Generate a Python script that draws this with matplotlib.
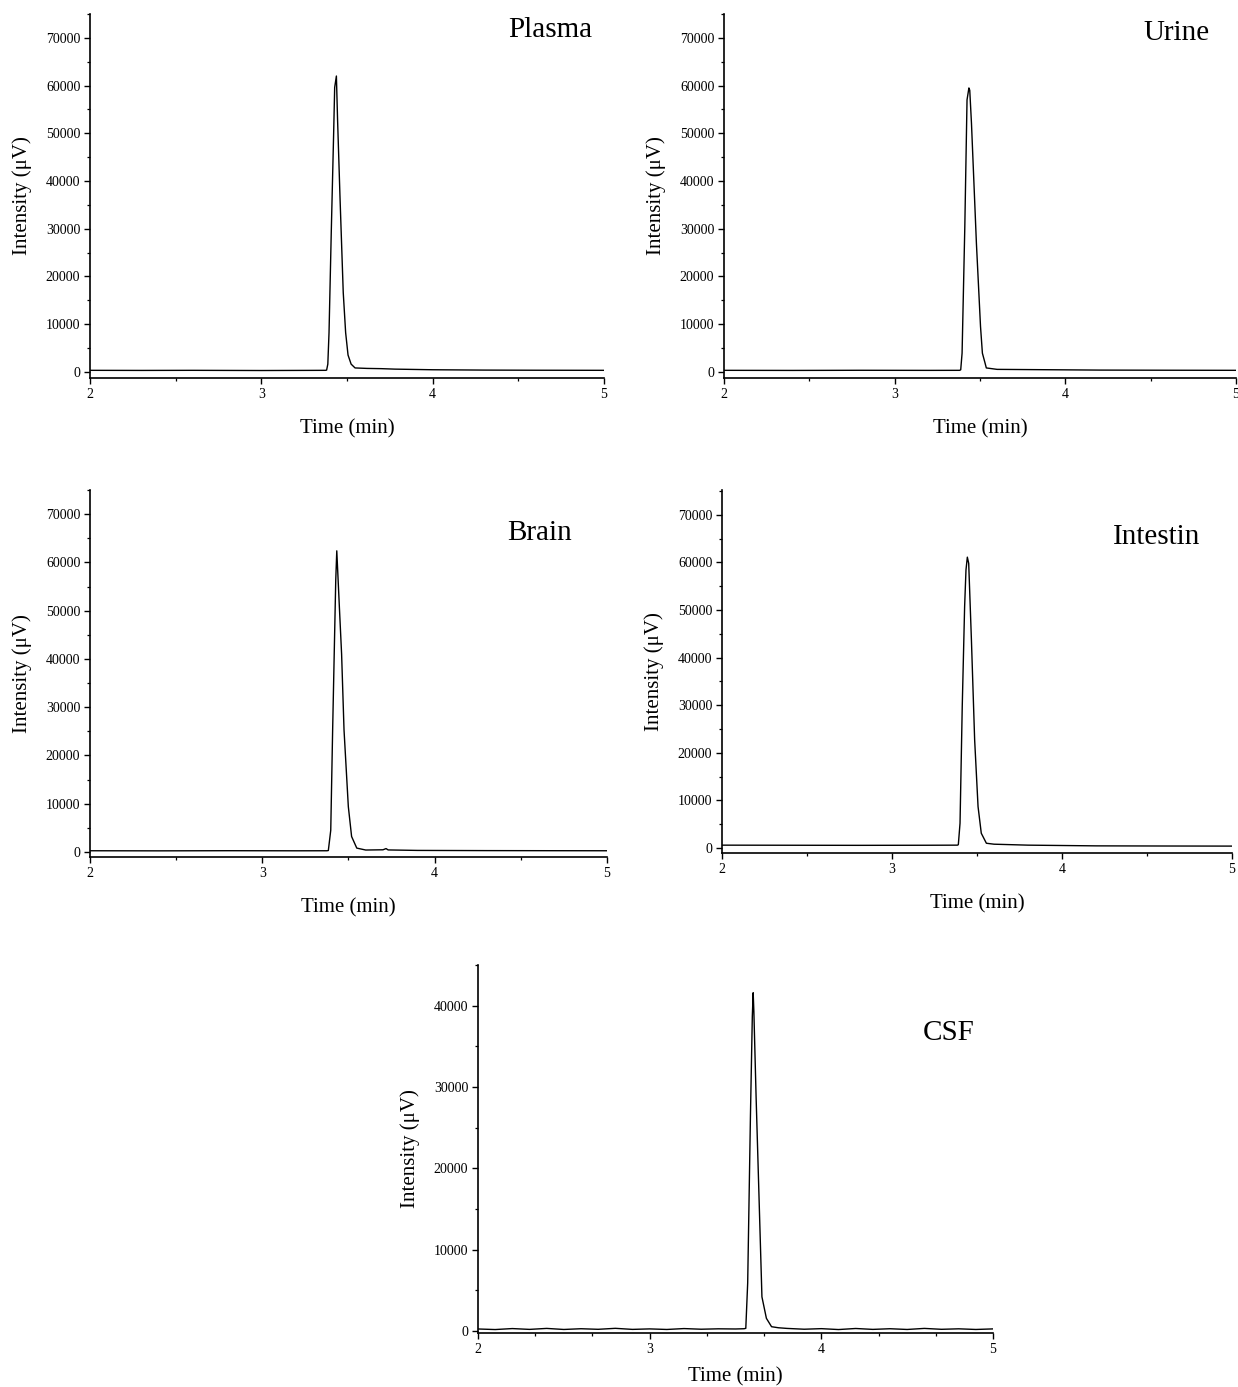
import numpy as np
import matplotlib
matplotlib.use('Agg')
import matplotlib.pyplot as plt
from matplotlib.ticker import MultipleLocator

plt.rcParams['font.family'] = ['Liberation Serif', 'DejaVu Serif']

# chromatogram traces (time in min, intensity in uV)
plasma_t = [2.0, 2.3, 2.6, 3.0, 3.3, 3.375, 3.381, 3.388, 3.395, 3.408, 3.422, 3.428, 3.438,
            3.445, 3.459, 3.478, 3.492, 3.506, 3.524, 3.547, 3.617, 3.7, 3.78, 4.0, 4.3, 4.6, 5.0]
plasma_i = [300, 280, 300, 260, 290, 300, 350, 1600, 8200, 29100, 50000, 59600, 62000,
            52700, 36700, 16600, 8200, 3500, 1600, 800, 700, 650, 550, 420, 350, 320, 300]

urine_t = [2.0, 2.4, 2.8, 3.2, 3.38, 3.387, 3.395, 3.411, 3.424, 3.435, 3.44, 3.45, 3.479,
           3.503, 3.514, 3.529, 3.537, 3.6, 3.8, 4.2, 4.6, 5.0]
urine_i = [300, 280, 310, 290, 300, 400, 3900, 30400, 57000, 59500, 59000, 52100, 26900,
           9500, 3900, 1900, 800, 500, 450, 350, 320, 300]

brain_t = [2.0, 2.4, 2.8, 3.2, 3.375, 3.383, 3.397, 3.408, 3.42, 3.426, 3.432, 3.447, 3.46,
           3.474, 3.499, 3.518, 3.548, 3.6, 3.7, 3.718, 3.73, 3.9, 4.3, 4.7, 5.0]
brain_i = [250, 230, 260, 240, 250, 300, 4500, 25300, 46000, 56300, 62400, 50800, 41000,
           25300, 9400, 3200, 800, 400, 450, 700, 420, 320, 280, 260, 250]

intestin_t = [2.0, 2.4, 2.8, 3.2, 3.385, 3.39, 3.4, 3.413, 3.427, 3.435, 3.443, 3.451, 3.467,
              3.486, 3.506, 3.525, 3.555, 3.6, 3.8, 4.2, 4.6, 5.0]
intestin_i = [600, 580, 560, 580, 600, 700, 5200, 29700, 50700, 58400, 61100, 59800, 43700,
              22700, 8700, 3100, 1000, 800, 600, 450, 420, 400]

csf_t = [2.0, 2.1, 2.2, 2.3, 2.4, 2.5, 2.6, 2.7, 2.8, 2.9, 3.0, 3.1, 3.2, 3.3, 3.4, 3.5,
         3.55, 3.56, 3.571, 3.587, 3.598, 3.603, 3.607, 3.62, 3.654, 3.68, 3.71, 3.75,
         3.8, 3.9, 4.0, 4.1, 4.2, 4.3, 4.4, 4.5, 4.6, 4.7, 4.8, 4.9, 5.0]
csf_i = [250, 180, 300, 200, 320, 190, 280, 210, 330, 200, 260, 190, 300, 220, 270, 250,
         280, 330, 5900, 26400, 38700, 41600, 39300, 28800, 4200, 1560, 530, 400,
         320, 220, 290, 180, 310, 200, 280, 190, 320, 210, 270, 190, 260]

panels = [
    # name, t, i, axes rect, ylim, yticks max, minor x step, label position, xlabel pad
    ('Plasma', plasma_t, plasma_i, [0.0727, 0.7275, 0.4152, 0.2624], (-1300, 75000), 70000, 0.5, (0.895, 0.956), 13),
    ('Urine', urine_t, urine_i, [0.5848, 0.7275, 0.4136, 0.2624], (-1300, 75000), 70000, 0.5, (0.883, 0.948), 13),
    ('Brain', brain_t, brain_i, [0.0727, 0.3821, 0.4176, 0.2646], (-1050, 75000), 70000, 0.5, (0.870, 0.883), 13),
    ('Intestin', intestin_t, intestin_i, [0.5832, 0.3850, 0.4120, 0.2617], (-1050, 75200), 70000, 0.5, (0.853, 0.870), 13),
    ('CSF', csf_t, csf_i, [0.3861, 0.0389, 0.4160, 0.2653], (-250, 45000), 40000, 1 / 3, (0.913, 0.815), 8),
]

fig = plt.figure(figsize=(12.38, 13.87), dpi=100)

for name, t, inten, rect, ylim, ymax, xminor, (tx, ty), xpad in panels:
    ax = fig.add_axes(rect)
    ax.plot(t, inten, color='black', linewidth=1.0)
    ax.set_xlim(2, 5)
    ax.set_ylim(*ylim)
    ax.set_xticks([2, 3, 4, 5])
    ax.set_yticks(np.arange(0, ymax + 1, 10000))
    ax.xaxis.set_minor_locator(MultipleLocator(xminor))
    ax.yaxis.set_minor_locator(MultipleLocator(5000))
    for side in ['top', 'right']:
        ax.spines[side].set_visible(False)
    for side in ['left', 'bottom']:
        ax.spines[side].set_linewidth(1.2)
    ax.tick_params(which='major', direction='out', length=4, width=1.0, labelsize=10, pad=3)
    ax.tick_params(which='minor', direction='out', length=2.5, width=0.9)
    ax.set_xlabel('Time (min)', fontsize=15, labelpad=xpad)
    ax.set_ylabel('Intensity (μV)', fontsize=15, labelpad=10)
    ax.text(tx, ty, name, transform=ax.transAxes, fontsize=21, ha='center', va='center')

fig.savefig('out.png', dpi=100)
